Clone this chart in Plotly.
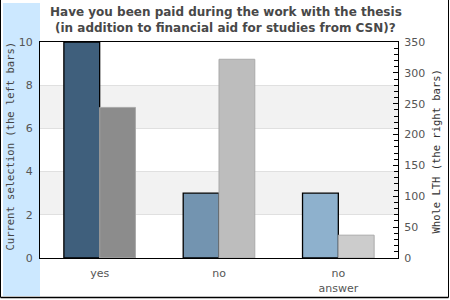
import plotly.graph_objects as go

categories = ["yes", "no", "no<br>answer"]
current_selection = [10, 3, 3]
whole_lth = [244, 322, 37]

title_lines = ["Have you been paid during the work with the thesis",
               "(in addition to financial aid for studies from CSN)?"]

left_colors = ["#3f5f7c", "#7394b0", "#8eb1cd"]
right_colors = ["#8c8c8c", "#bdbdbd", "#cccccc"]

W, H = 450, 300
L, R, T, B = 40, 52, 42, 42
pw, ph = W - L - R, H - T - B

def px_x(px):
    return (px - L) / pw

def px_y(py):
    return (H - B - py) / ph

fig = go.Figure()
fig.add_trace(go.Bar(
    x=categories, y=current_selection, width=0.3, offset=-0.3,
    marker=dict(color=left_colors, line=dict(color="black", width=1.3)),
    yaxis="y", showlegend=False, hoverinfo="skip"))
fig.add_trace(go.Bar(
    x=categories, y=whole_lth, width=0.3, offset=0.0,
    marker=dict(color=right_colors, line=dict(color="#aaaaaa", width=1)),
    yaxis="y2", showlegend=False, hoverinfo="skip"))

shapes = [
    dict(type="rect", xref="paper", yref="paper", x0=px_x(3), x1=px_x(40),
         y0=px_y(296), y1=px_y(3), fillcolor="#cce8ff", line=dict(width=0), layer="below"),
    dict(type="rect", xref="paper", yref="y", x0=0, x1=1, y0=6, y1=8,
         fillcolor="#f2f2f2", line=dict(width=0), layer="below"),
    dict(type="rect", xref="paper", yref="y", x0=0, x1=1, y0=2, y1=4,
         fillcolor="#f2f2f2", line=dict(width=0), layer="below"),
    dict(type="line", xref="paper", yref="paper", x0=px_x(0.5), x1=px_x(0.5),
         y0=px_y(0), y1=px_y(297.5), line=dict(color="black", width=1)),
    dict(type="line", xref="paper", yref="paper", x0=px_x(448.5), x1=px_x(448.5),
         y0=px_y(0), y1=px_y(297.5), line=dict(color="black", width=1)),
    dict(type="line", xref="paper", yref="paper", x0=px_x(0.5), x1=px_x(448.5),
         y0=px_y(297.5), y1=px_y(297.5), line=dict(color="black", width=1.5)),
]

title_font = dict(family="DejaVu Sans", size=12, color="#484848", weight="bold")
annotations = [
    dict(text=title_lines[0], xref="paper", yref="paper", x=px_x(226), y=px_y(12),
         showarrow=False, xanchor="center", yanchor="middle", font=title_font),
    dict(text=title_lines[1], xref="paper", yref="paper", x=px_x(226), y=px_y(27.5),
         showarrow=False, xanchor="center", yanchor="middle", font=title_font),
    dict(text="Current selection (the left bars)", xref="paper", yref="paper",
         x=px_x(9), y=px_y(146.5), textangle=-90, showarrow=False,
         xanchor="center", yanchor="middle",
         font=dict(family="DejaVu Sans Mono", size=10.5, color="#444")),
    dict(text="Whole LTH (the right bars)", xref="paper", yref="paper",
         x=px_x(435), y=px_y(151.5), textangle=-90, showarrow=False,
         xanchor="center", yanchor="middle",
         font=dict(family="DejaVu Sans Mono", size=10.5, color="#333")),
]

tickfont = dict(family="DejaVu Sans", size=11, color="#555")

fig.update_layout(
    width=W, height=H,
    margin=dict(l=L, r=R, t=T, b=B),
    paper_bgcolor="white", plot_bgcolor="white",
    xaxis=dict(showline=True, linecolor="black", linewidth=1, mirror=True,
               ticks="", tickfont=tickfont, showgrid=False, fixedrange=True,
               ticklabelstandoff=5, automargin=False),
    yaxis=dict(range=[0, 10], dtick=2, showline=True, linecolor="black", linewidth=1,
               mirror=True, ticks="", showgrid=True, gridcolor="#e0e0e0",
               tickfont=tickfont, ticklabelstandoff=4, zeroline=False, automargin=False),
    yaxis2=dict(range=[0, 350], dtick=50, overlaying="y", side="right",
                showline=True, linecolor="black", linewidth=1,
                ticks="inside", ticklen=5, tickcolor="black",
                minor=dict(dtick=10, ticks="inside", ticklen=4, tickcolor="black"),
                showgrid=False, zeroline=False, tickfont=tickfont, ticklabelstandoff=3,
                automargin=False),
    shapes=shapes, annotations=annotations,
    bargap=0.4,
)

fig.write_html("out.html")
